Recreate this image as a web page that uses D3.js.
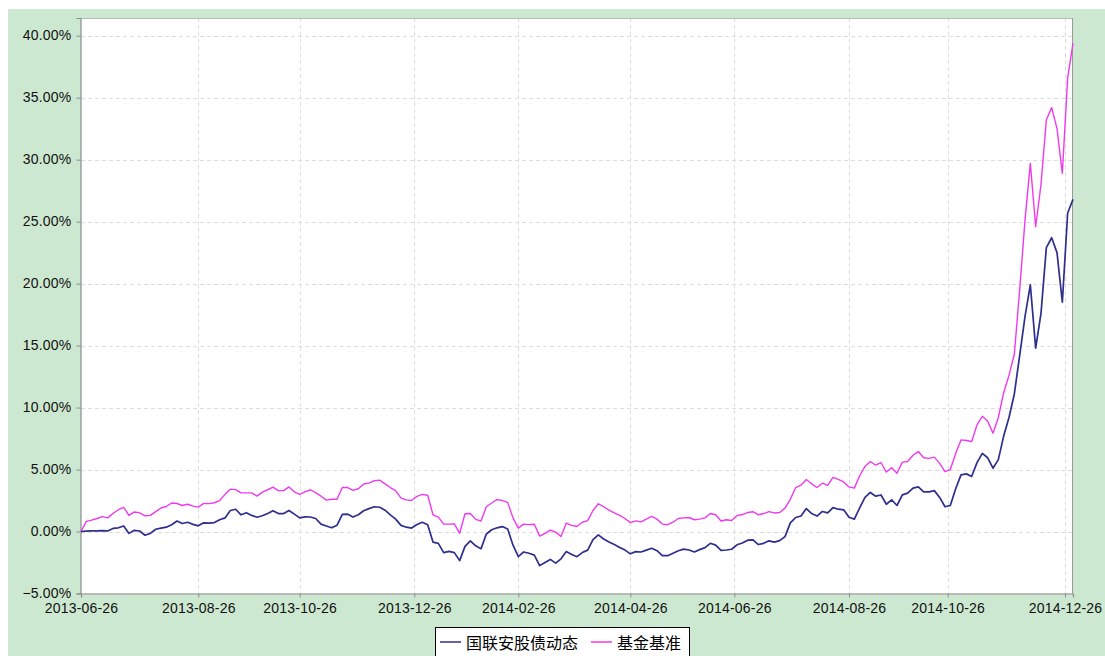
<!DOCTYPE html>
<html><head><meta charset="utf-8">
<script src="https://cdn.jsdelivr.net/npm/d3@7"></script>
<style>html,body{margin:0;padding:0;background:#fff;}svg{display:block;}</style>
</head><body>
<script>
// trading-day index of the last sample; one sample every 2 trading days
const lastDay = 372;
const dayStep = 2;
const tickDays = [0, 44, 82, 125, 164, 206, 245, 288, 325, 369];
const tickLabels = ["2013-06-26","2013-08-26","2013-10-26","2013-12-26","2014-02-26","2014-04-26","2014-06-26","2014-08-26","2014-10-26","2014-12-26"];
const yTicks = [-5,0,5,10,15,20,25,30,35,40];
const seriesNames = ["国联安股债动态", "基金基准"];

const fundValues = [0,0.03,0.05,0.06,0.07,0.05,0.25,0.3,0.45,-0.15,
0.1,0.04,-0.3,-0.15,0.18,0.28,0.35,0.55,0.85,0.65,
0.75,0.58,0.46,0.7,0.68,0.72,0.95,1.1,1.7,1.8,
1.35,1.52,1.3,1.15,1.27,1.45,1.68,1.45,1.45,1.7,
1.4,1.1,1.18,1.17,1.05,0.6,0.45,0.3,0.5,1.38,
1.4,1.17,1.35,1.68,1.85,2.0,1.96,1.72,1.35,1.0,
0.5,0.35,0.28,0.56,0.75,0.55,-0.85,-0.95,-1.7,-1.6,
-1.7,-2.35,-1.2,-0.75,-1.15,-1.4,-0.2,0.14,0.3,0.4,
0.2,-1.1,-2.03,-1.65,-1.75,-1.9,-2.75,-2.5,-2.25,-2.55,
-2.2,-1.62,-1.85,-2.03,-1.7,-1.5,-0.65,-0.27,-0.6,-0.85,
-1.05,-1.28,-1.5,-1.8,-1.62,-1.65,-1.5,-1.35,-1.55,-1.95,
-1.95,-1.75,-1.55,-1.42,-1.49,-1.65,-1.46,-1.3,-0.95,-1.1,
-1.52,-1.49,-1.43,-1.07,-0.93,-0.7,-0.68,-1.05,-0.95,-0.75,
-0.85,-0.73,-0.41,0.7,1.13,1.25,1.85,1.45,1.25,1.62,
1.5,1.93,1.8,1.75,1.15,1.0,1.9,2.75,3.15,2.85,
2.95,2.2,2.55,2.1,2.96,3.1,3.5,3.6,3.2,3.2,
3.3,2.75,2.0,2.1,3.45,4.57,4.65,4.44,5.56,6.3,
5.95,5.11,5.8,7.7,9.2,11.1,14.2,17.34,19.9,14.8,
17.6,22.9,23.7,22.5,18.5,25.7,26.8];

const benchValues = [0,0.82,0.92,1.05,1.2,1.1,1.45,1.76,1.95,1.3,
1.58,1.5,1.27,1.3,1.6,1.9,2.02,2.3,2.26,2.1,
2.2,2.05,1.97,2.27,2.25,2.32,2.5,3.0,3.42,3.38,
3.12,3.12,3.12,2.86,3.18,3.37,3.58,3.3,3.3,3.6,
3.2,3.0,3.2,3.37,3.14,2.85,2.53,2.6,2.6,3.55,
3.55,3.32,3.45,3.83,3.9,4.1,4.15,3.85,3.55,3.3,
2.7,2.55,2.5,2.84,3.0,2.93,1.35,1.16,0.6,0.6,
0.62,-0.15,1.43,1.45,0.98,0.85,2.0,2.3,2.57,2.5,
2.35,1.1,0.27,0.6,0.56,0.59,-0.37,-0.15,0.12,-0.05,
-0.4,0.68,0.5,0.41,0.75,0.88,1.7,2.24,2.0,1.72,
1.5,1.3,1.05,0.72,0.86,0.78,1.0,1.22,1.0,0.6,
0.55,0.75,1.05,1.1,1.13,0.95,1.0,1.1,1.45,1.35,
0.85,0.95,0.89,1.28,1.37,1.53,1.6,1.35,1.45,1.6,
1.5,1.54,1.89,2.6,3.55,3.74,4.2,3.85,3.55,3.9,
3.72,4.37,4.2,4.0,3.6,3.5,4.5,5.25,5.65,5.35,
5.55,4.8,5.15,4.7,5.6,5.65,6.15,6.45,5.95,5.9,
6.0,5.5,4.84,5.0,6.3,7.39,7.34,7.26,8.6,9.3,
8.9,7.93,9.2,11.2,12.6,14.3,19.5,25.1,29.7,24.6,
28.0,33.2,34.2,32.5,28.9,36.6,39.4];

const W = 1105, H = 656;
const plot = {left: 81, right: 1073, top: 18, bottom: 593.5};
const colors = ["#2e2e8e", "#ee3aee"];

const svg = d3.select("body").append("svg").attr("width", W).attr("height", H);
svg.append("rect").attr("x", 8).attr("y", 9).attr("width", W - 8).attr("height", H - 9).attr("fill", "#cde8d0");
svg.append("rect").attr("x", plot.left).attr("y", plot.top).attr("width", plot.right - plot.left).attr("height", plot.bottom - plot.top).attr("fill", "#fff");

const x = d3.scaleLinear().domain([0, lastDay]).range([plot.left, plot.right]);
const y = d3.scaleLinear().domain([-5, 41.43]).range([plot.bottom, plot.top]);

// grid
const g = svg.append("g");
g.selectAll(".hg").data(yTicks).join("line")
  .attr("x1", plot.left).attr("x2", plot.right)
  .attr("y1", d => Math.round(y(d)) + 0.5).attr("y2", d => Math.round(y(d)) + 0.5)
  .attr("stroke", "#dedede").attr("stroke-dasharray", "4,3");
g.selectAll(".vg").data(tickDays.slice(1)).join("line")
  .attr("x1", d => Math.round(x(d)) + 0.5).attr("x2", d => Math.round(x(d)) + 0.5)
  .attr("y1", plot.top).attr("y2", plot.bottom)
  .attr("stroke", "#dedede").attr("stroke-dasharray", "4,3");

// border
svg.append("line").attr("x1", plot.left).attr("x2", plot.right).attr("y1", plot.top + 0.5).attr("y2", plot.top + 0.5).attr("stroke", "#bbb");
svg.append("line").attr("x1", plot.right - 0.5).attr("x2", plot.right - 0.5).attr("y1", plot.top).attr("y2", plot.bottom).attr("stroke", "#999");

// axes
const yAxis = d3.axisLeft(y).tickValues(yTicks).tickSize(4).tickPadding(5).tickFormat(d => d3.format(".2f")(d) + "%");
const ya = svg.append("g").attr("transform", `translate(${plot.left - 0.5},0)`).call(yAxis);
const xAxis = d3.axisBottom(x).tickValues(tickDays).tickSize(4).tickPadding(6).tickFormat((d, i) => tickLabels[i]);
const xa = svg.append("g").attr("transform", `translate(0,${Math.round(plot.bottom) - 0.5})`).call(xAxis);
[ya, xa].forEach(a => {
  a.select(".domain").attr("stroke", "#8c8c8c").attr("stroke-width", 1.2);
  a.selectAll(".tick line").attr("stroke", "#8c8c8c");
  a.selectAll("text").attr("fill", "#111").style("font-family", "'Liberation Sans', Arial, sans-serif").style("font-size", "14px").style("letter-spacing", "0.2px");
});
ya.selectAll("text").attr("dy", "0.3em");

// lines
const line = d3.line().x((d, i) => x(i * dayStep)).y(d => y(d));
[benchValues, fundValues].forEach((vals, j) => {
  const c = j === 0 ? colors[1] : colors[0];
  svg.append("path").datum(vals).attr("d", line).attr("fill", "none")
    .attr("stroke", c).attr("stroke-width", j === 0 ? 1.4 : 1.7).attr("stroke-linejoin", "round");
});

// legend
const lg = svg.append("g");
lg.append("rect").attr("x", 435.5).attr("y", 627.5).attr("width", 254).attr("height", 40).attr("fill", "#fff").attr("stroke", "#000");
const legendX = [440, 591];
seriesNames.forEach((n, i) => {
  lg.append("line").attr("x1", legendX[i]).attr("x2", legendX[i] + 21).attr("y1", 642).attr("y2", 642)
    .attr("stroke", colors[i]).attr("stroke-width", 1.5);
  lg.append("text").attr("x", legendX[i] + 26).attr("y", 648.5).text(n)
    .style("font-family", "'Noto Sans CJK SC', sans-serif").style("font-size", "16px").attr("fill", "#000");
});
</script>
</body></html>
